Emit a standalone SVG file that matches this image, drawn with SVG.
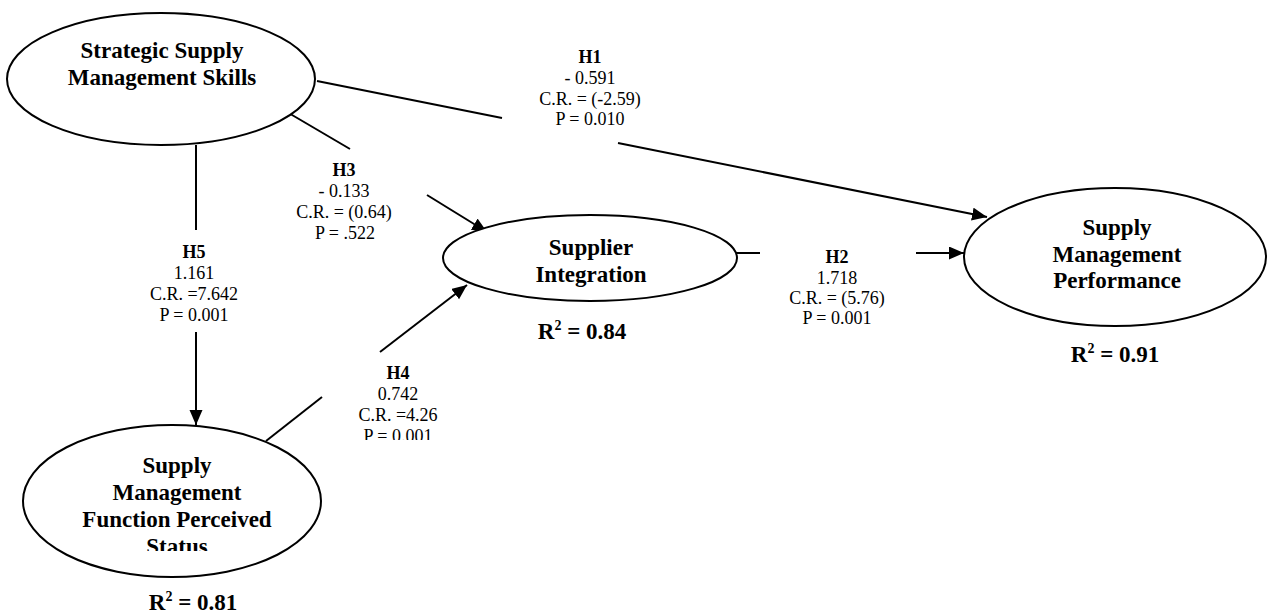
<svg xmlns="http://www.w3.org/2000/svg" width="1267" height="614" viewBox="0 0 1267 614">
<style>
.node{fill:#fff;stroke:#000;stroke-width:2}
.nt{font-family:"Liberation Serif","Times New Roman",serif;font-size:23px;font-weight:bold;text-anchor:middle;fill:#000}
.lb{font-family:"Liberation Serif","Times New Roman",serif;font-size:18px;text-anchor:middle;fill:#000}
.lb .h{font-weight:bold}
.con line{stroke:#000;stroke-width:2}
</style>
<defs>
<marker id="arr" markerUnits="userSpaceOnUse" markerWidth="16" markerHeight="14" refX="15" refY="6.5" orient="auto">
<path d="M0,0 L15,6.5 L0,13 z" fill="#000"/>
</marker>
<clipPath id="clipFS"><rect x="0" y="400" width="400" height="151"/></clipPath>
<clipPath id="clipH4"><rect x="300" y="350" width="200" height="90"/></clipPath>
</defs>
<rect width="1267" height="614" fill="#fff"/>

<g id="connectors" class="con">
<line x1="317" y1="81" x2="502" y2="118"/>
<line x1="618" y1="143" x2="987" y2="217" marker-end="url(#arr)"/>
<line x1="287" y1="112" x2="350" y2="149"/>
<line x1="427" y1="195" x2="487" y2="232" marker-end="url(#arr)"/>
<line x1="196" y1="145" x2="196" y2="230"/>
<line x1="196" y1="332" x2="196" y2="425" marker-end="url(#arr)"/>
<line x1="266" y1="441" x2="322" y2="397"/>
<line x1="380" y1="352" x2="467" y2="285" marker-end="url(#arr)"/>
<line x1="733" y1="253" x2="760" y2="253"/>
<line x1="916" y1="253" x2="964" y2="253" marker-end="url(#arr)"/>
</g>

<g id="labels">
<g id="label-h1" class="lb">
<text x="590" y="63" class="h">H1</text>
<text x="590" y="84">- 0.591</text>
<text x="590" y="105">C.R. = (-2.59)</text>
<text x="590" y="125">P = 0.010</text>
</g>
<g id="label-h3" class="lb">
<text x="344" y="176" class="h">H3</text>
<text x="344" y="197">- 0.133</text>
<text x="344" y="218">C.R. = (0.64)</text>
<text x="345" y="239">P = .522</text>
</g>
<g id="label-h5" class="lb">
<text x="194" y="258" class="h">H5</text>
<text x="194" y="279">1.161</text>
<text x="194" y="300">C.R. =7.642</text>
<text x="194" y="321">P = 0.001</text>
</g>
<g id="label-h4" class="lb" clip-path="url(#clipH4)">
<text x="398" y="379" class="h">H4</text>
<text x="398" y="400">0.742</text>
<text x="398" y="421">C.R. =4.26</text>
<text x="398" y="442">P = 0.001</text>
</g>
<g id="label-h2" class="lb">
<text x="837" y="263" class="h">H2</text>
<text x="837" y="284">1.718</text>
<text x="837" y="304">C.R. = (5.76)</text>
<text x="837" y="324">P = 0.001</text>
</g>
</g>

<g id="node-skills">
<ellipse class="node" cx="161" cy="79" rx="154" ry="66"/>
<text class="nt" x="162" y="58">Strategic Supply</text>
<text class="nt" x="162" y="85">Management Skills</text>
</g>

<g id="node-integration">
<ellipse class="node" cx="590" cy="258" rx="147" ry="43"/>
<text class="nt" x="591" y="255">Supplier</text>
<text class="nt" x="591" y="282">Integration</text>
<text class="nt" x="582" y="339">R<tspan dy="-9" font-size="14">2</tspan><tspan dy="9"> = 0.84</tspan></text>
</g>

<g id="node-performance">
<ellipse class="node" cx="1115" cy="257" rx="151" ry="69"/>
<text class="nt" x="1117" y="235">Supply</text>
<text class="nt" x="1117" y="262">Management</text>
<text class="nt" x="1117" y="288">Performance</text>
<text class="nt" x="1115" y="362">R<tspan dy="-9" font-size="14">2</tspan><tspan dy="9"> = 0.91</tspan></text>
</g>

<g id="node-status">
<ellipse class="node" cx="172" cy="501" rx="149" ry="76"/>
<g clip-path="url(#clipFS)">
<text class="nt" x="177" y="473">Supply</text>
<text class="nt" x="177" y="500">Management</text>
<text class="nt" x="177" y="527">Function Perceived</text>
<text class="nt" x="177" y="554">Status</text>
</g>
<text class="nt" x="193" y="610">R<tspan dy="-9" font-size="14">2</tspan><tspan dy="9"> = 0.81</tspan></text>
</g>
</svg>
